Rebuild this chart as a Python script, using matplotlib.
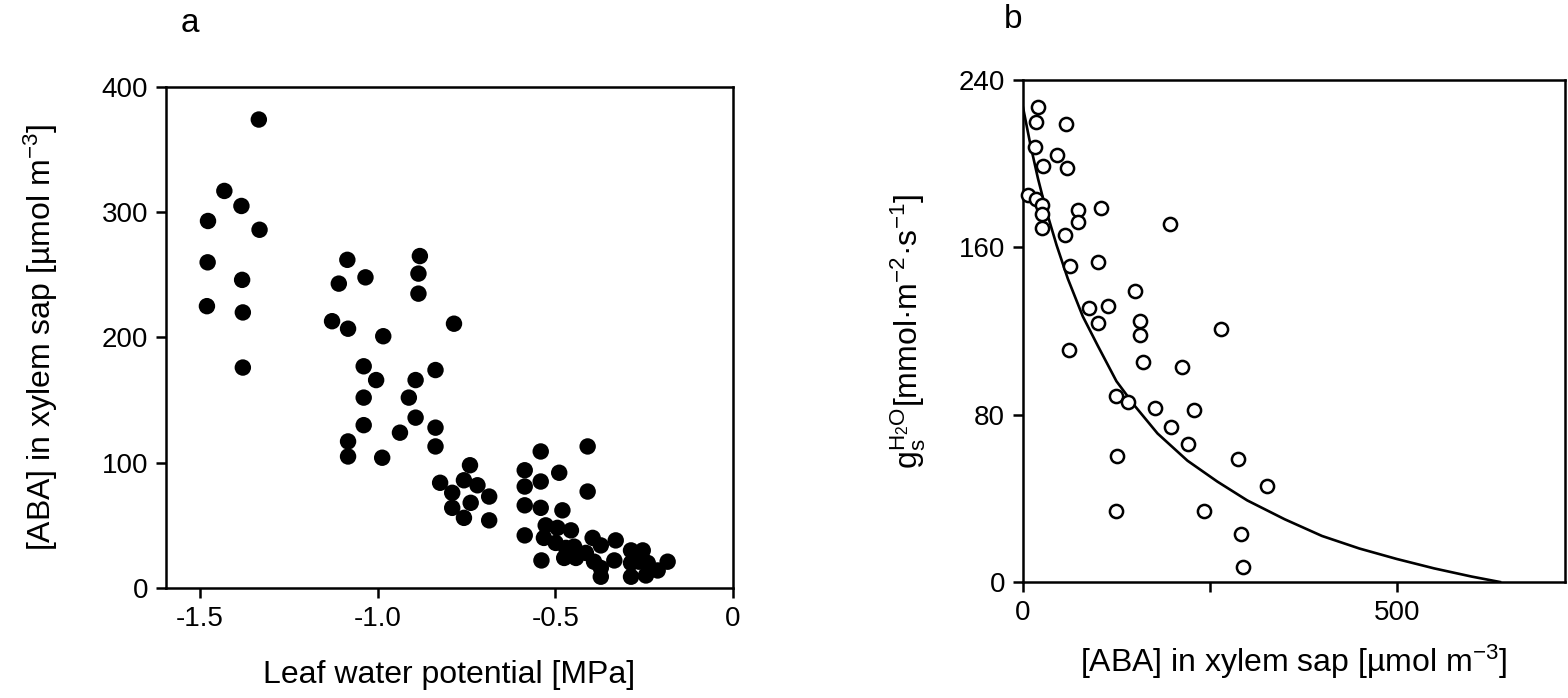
"""Two-panel figure: xylem ABA vs leaf water potential (a) and stomatal
conductance vs xylem ABA (b). Values read off the published figure."""

import matplotlib
matplotlib.use("Agg")
import matplotlib.pyplot as plt
from matplotlib.ticker import FixedLocator

plt.rcParams["font.family"] = ["Liberation Sans", "DejaVu Sans"]
plt.rcParams["mathtext.fontset"] = "custom"
plt.rcParams["mathtext.rm"] = "Liberation Sans"
plt.rcParams["mathtext.it"] = "Liberation Sans"

# Panel a: leaf water potential [MPa] vs [ABA] in xylem sap
PSI_LEAF = [
    -1.334, -1.431, -1.383, -1.477, -1.332, -1.478, -1.381, -1.480, -1.379,
    -1.379, -1.085, -1.109, -1.034, -1.128, -1.083, -0.984,
    -1.039, -1.004, -1.039, -1.039, -1.083, -1.083, -0.987, -0.937,
    -0.881, -0.885, -0.885, -0.785, -0.837, -0.893, -0.912, -0.893,
    -0.837, -0.837, -0.740, -0.824, -0.757, -0.719, -0.790, -0.686,
    -0.738, -0.790, -0.757, -0.686,
    -0.541, -0.409, -0.586, -0.489, -0.541, -0.586, -0.409, -0.586,
    -0.541, -0.480, -0.586, -0.539,
    -0.527, -0.494, -0.456, -0.532, -0.499, -0.470, -0.447, -0.475,
    -0.442, -0.414, -0.395, -0.372, -0.330, -0.391, -0.372, -0.372,
    -0.334, -0.287, -0.254, -0.287, -0.264, -0.240, -0.287, -0.245,
    -0.212, -0.184,
]
ABA_A = [
    374, 317, 305, 293, 286, 260, 246, 225, 220,
    176, 262, 243, 248, 213, 207, 201,
    177, 166, 152, 130, 117, 105, 104, 124,
    265, 251, 235, 211, 174, 166, 152, 136,
    128, 113, 98, 84, 86, 82, 76, 73,
    68, 64, 56, 54,
    109, 113, 94, 92, 85, 81, 77, 66,
    64, 62, 42, 22,
    50, 48, 46, 40, 36, 32, 33, 24,
    24, 28, 40, 34, 38, 21, 16, 9,
    22, 30, 30, 20, 21, 20, 9, 10,
    14, 21,
]

# Panel b: [ABA] in xylem sap vs stomatal conductance for water vapour
ABA_B = [
    20, 18, 57, 16, 45, 27, 59, 7, 17, 26, 26, 25, 73, 74, 105, 196,
    56, 63, 100, 150, 88, 114, 100, 156, 156, 265,
    61, 160, 213, 125, 140, 177, 229, 198, 221, 126, 287, 327, 124, 242,
    291, 294,
]
GS_B = [
    227, 220, 219, 208, 204, 199, 198, 185, 183, 180, 176, 169, 178, 172,
    179, 171, 166, 151, 153, 139, 131, 132, 124, 125, 118, 121,
    111, 105, 103, 89, 86, 83, 82, 74, 66, 60, 59, 46, 34, 34, 23, 7,
]

# Fitted response curve
CURVE_ABA = [0, 10, 20, 30, 45, 60, 80, 100, 125, 150, 180, 220, 260, 300,
             350, 400, 450, 500, 550, 600, 638]
CURVE_GS = [227, 209, 193, 179, 161, 145, 127, 113, 96, 84, 71, 58, 48, 39,
            30, 22, 16, 11, 6.5, 2.6, 0]

TICK_SIZE = 20
LABEL_SIZE = 23


def style_axes(ax):
    for sp in ax.spines.values():
        sp.set_linewidth(1.8)
    ax.tick_params(direction="out", length=7, width=1.8,
                   labelsize=TICK_SIZE, pad=6)
    ax.tick_params(which="minor", direction="out", length=7, width=1.8)


def main():
    fig = plt.figure(figsize=(15.68, 6.98), dpi=100)

    # Panel a
    ax = fig.add_axes([0.1059, 0.1576, 0.3616, 0.7178])
    ax.scatter(PSI_LEAF, ABA_A, s=140, color="black", edgecolors="none",
               zorder=3, clip_on=False)
    ax.set_xlim(-1.595, 0)
    ax.set_ylim(0, 400)
    ax.set_xticks([-1.5, -1.0, -0.5, 0])
    ax.set_xticklabels(["-1.5", "-1.0", "-0.5", "0"])
    ax.set_yticks([0, 100, 200, 300, 400])
    style_axes(ax)
    ax.set_xlabel("Leaf water potential [MPa]", fontsize=LABEL_SIZE, labelpad=20)
    ax.set_ylabel("[ABA] in xylem sap [µmol m$^{-3}$]", fontsize=LABEL_SIZE,
                  labelpad=30)
    fig.text(190 / 1568, 1 - 24 / 698, "a", fontsize=24, ha="center",
             va="center")

    # Panel b
    bx = fig.add_axes([0.6524, 0.1662, 0.3457, 0.7192])
    bx.scatter(ABA_B, GS_B, s=90, facecolors="white", edgecolors="black",
               linewidths=1.8, zorder=3, clip_on=False)
    bx.plot(CURVE_ABA, CURVE_GS, color="black", lw=1.9, zorder=2)
    bx.set_xlim(0, 725)
    bx.set_ylim(0, 240)
    bx.set_xticks([0, 500])
    bx.xaxis.set_minor_locator(FixedLocator([250]))
    bx.set_yticks([0, 80, 160, 240])
    style_axes(bx)
    bx.set_xlabel("[ABA] in xylem sap [µmol m$^{-3}$]", fontsize=LABEL_SIZE,
                  labelpad=12)
    bx.set_ylabel(r"$\mathregular{g_s^{H_2O}}$[mmol·m$^{-2}$·s$^{-1}$]",
                  fontsize=LABEL_SIZE, labelpad=22)
    fig.text(1013 / 1568, 1 - 20 / 698, "b", fontsize=24, ha="center",
             va="center")

    fig.savefig("out.png", dpi=100)
    plt.close(fig)


if __name__ == "__main__":
    main()
